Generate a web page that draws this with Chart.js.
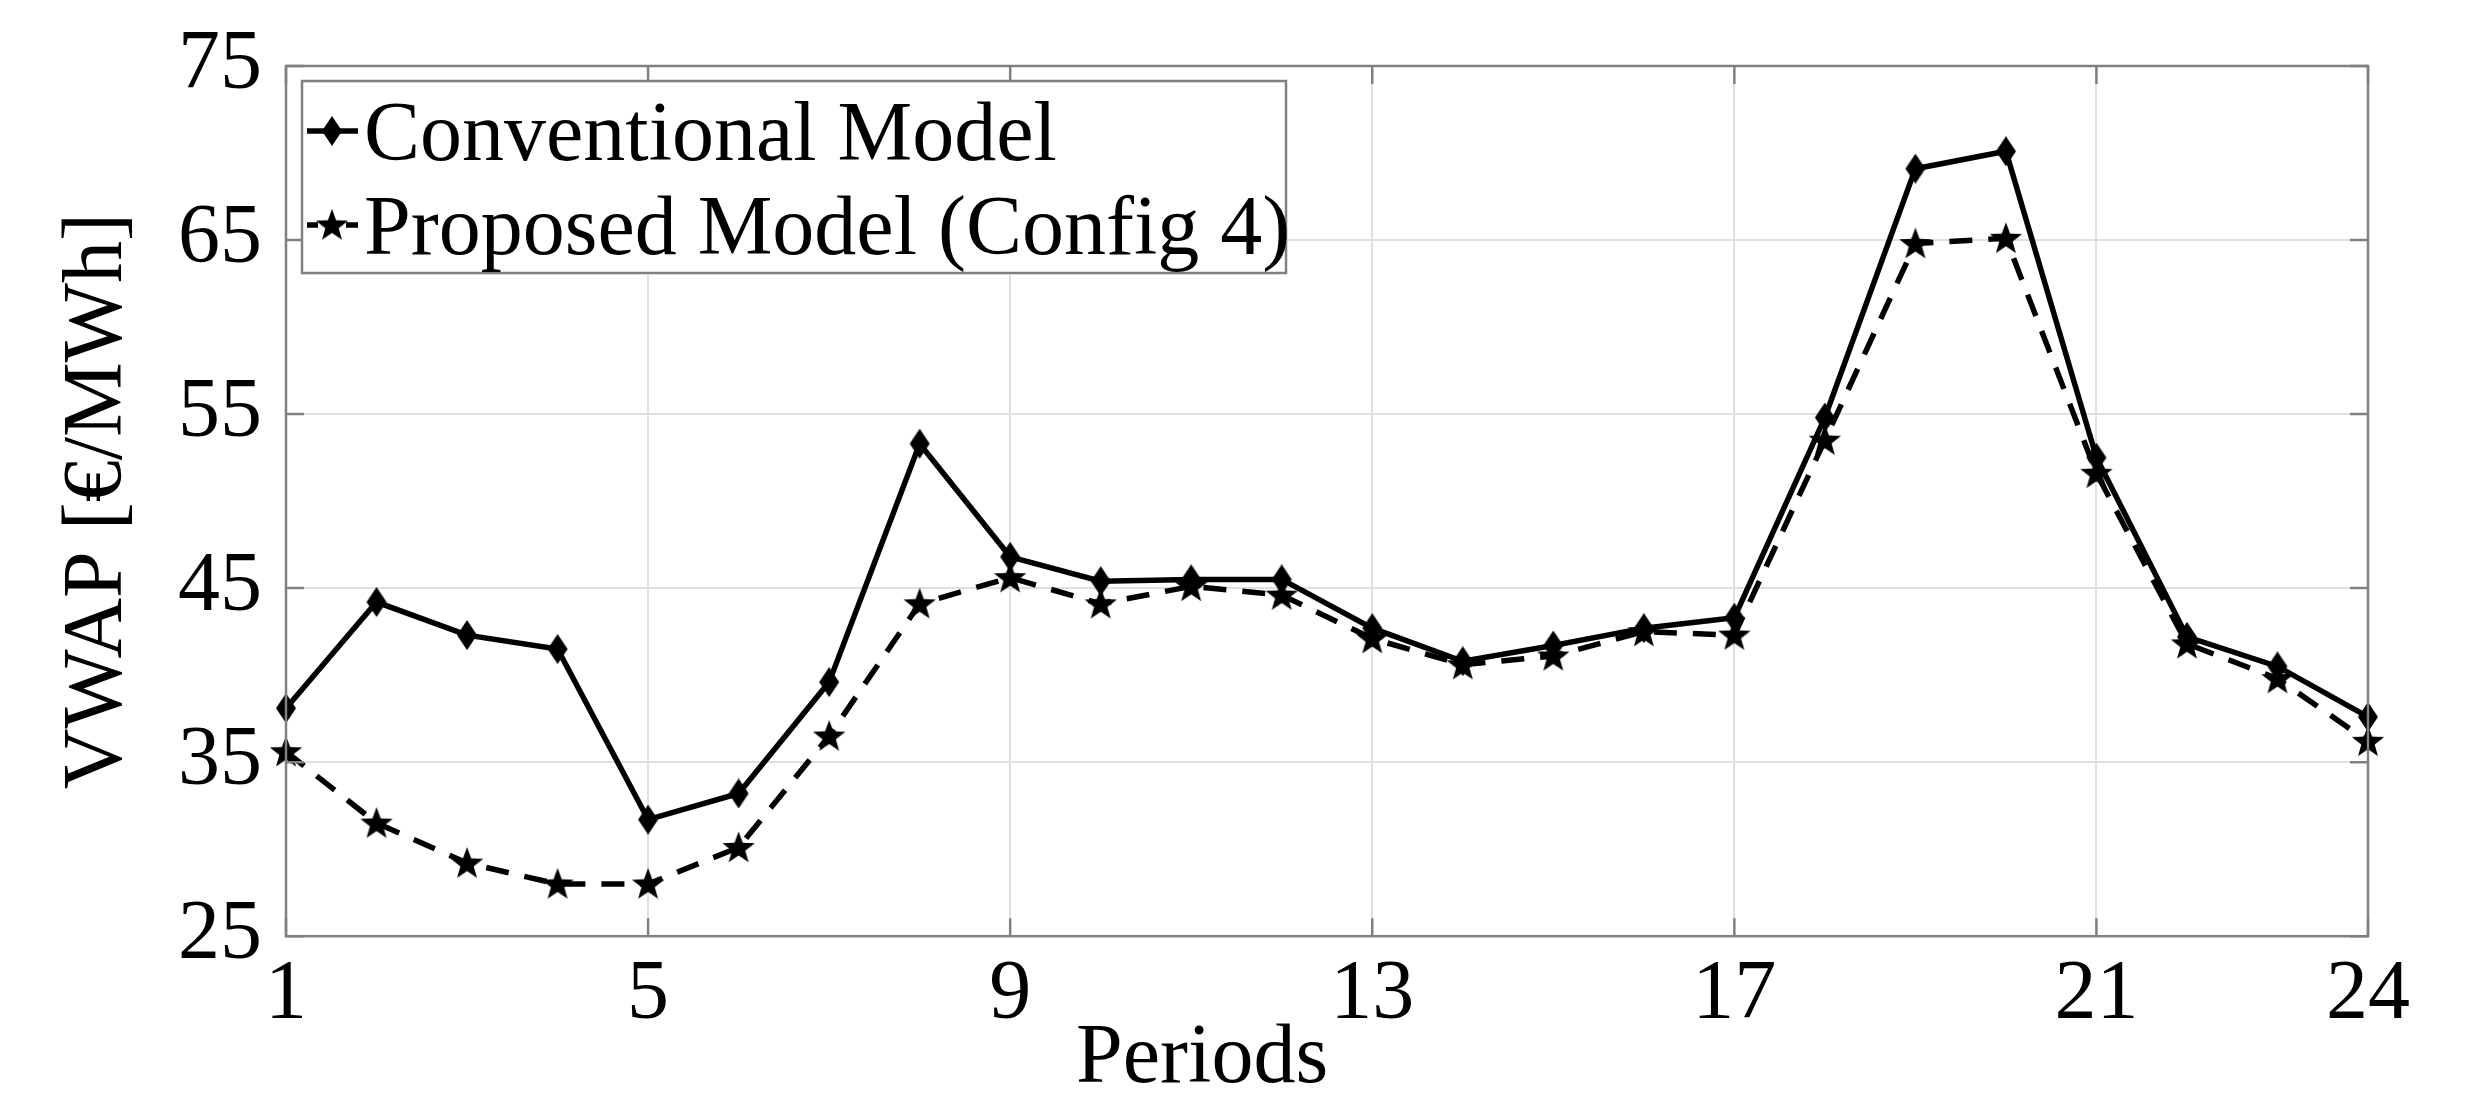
<!DOCTYPE html>
<html><head><meta charset="utf-8">
<script src="https://cdn.jsdelivr.net/npm/chart.js@4.4.1/dist/chart.umd.min.js"></script>
<style>html,body{margin:0;padding:0;background:#fff}#wrap{width:2492px;height:1109px}</style>
</head><body><div id="wrap"><canvas id="c" width="2492" height="1109"></canvas></div>
<script>
const periods = [1,2,3,4,5,6,7,8,9,10,11,12,13,14,15,16,17,18,19,20,21,22,23,24];
const conventional = [38.1,44.2,42.3,41.5,31.7,33.2,39.6,53.3,46.8,45.4,45.5,45.5,42.7,40.8,41.7,42.7,43.3,54.8,69.1,70.1,52.5,42.2,40.5,37.6];
const proposed = [35.6,31.5,29.2,28.0,28.0,30.1,36.5,44.1,45.6,44.1,45.1,44.6,42.1,40.6,41.1,42.5,42.3,53.5,64.8,65.1,51.6,41.8,39.8,36.2];
const xTicks = [1,5,9,13,17,21,24];
const yTicks = [25,35,45,55,65,75];
const seriesLabels = ['Conventional Model','Proposed Model (Config 4)'];
const xTitle = 'Periods';
const yTitle = 'VWAP [€/MWh]';

const FONT = "'Times New Roman','Liberation Serif',serif";
const FS = 84;
const GRID = '#e0e0e0';
const FRAME = '#808080';

function makeDiamond(){
  const c=document.createElement('canvas'); c.width=22; c.height=30;
  const g=c.getContext('2d'); g.fillStyle='#000';
  g.beginPath(); g.moveTo(11,0); g.lineTo(21,15); g.lineTo(11,30); g.lineTo(1,15); g.closePath(); g.fill();
  return c;
}
function makeStar(){
  const c=document.createElement('canvas'); c.width=34; c.height=33;
  const g=c.getContext('2d'); g.fillStyle='#000';
  const cx=17, cy=17.5, R=17, r=7;
  g.beginPath();
  for(let i=0;i<10;i++){
    const a=-Math.PI/2+i*Math.PI/5; const rr=(i%2===0)?R:r;
    const px=cx+rr*Math.cos(a), py=cy+rr*Math.sin(a);
    if(i===0) g.moveTo(px,py); else g.lineTo(px,py);
  }
  g.closePath(); g.fill();
  return c;
}
const diamond = makeDiamond();
const star = makeStar();

const framePlugin = {
  id:'frame',
  afterDatasetsDraw(chart){
    const {ctx, chartArea:ca, scales} = chart;
    ctx.save();
    ctx.strokeStyle=FRAME; ctx.lineWidth=2.5;
    ctx.strokeRect(ca.left, ca.top, ca.right-ca.left, ca.bottom-ca.top);
    const tl=18;
    ctx.beginPath();
    scales.x.ticks.forEach(t=>{
      const px=scales.x.getPixelForValue(t.value);
      ctx.moveTo(px, ca.bottom); ctx.lineTo(px, ca.bottom-tl);
      ctx.moveTo(px, ca.top); ctx.lineTo(px, ca.top+tl);
    });
    scales.y.ticks.forEach(t=>{
      const py=scales.y.getPixelForValue(t.value);
      ctx.moveTo(ca.left, py); ctx.lineTo(ca.left+tl, py);
      ctx.moveTo(ca.right, py); ctx.lineTo(ca.right-tl, py);
    });
    ctx.stroke();

    // legend
    const bx=ca.left+16, by=ca.top+15, bw=984, bh=192;
    ctx.fillStyle='#fff'; ctx.fillRect(bx,by,bw,bh);
    ctx.strokeStyle=FRAME; ctx.lineWidth=2.5; ctx.strokeRect(bx,by,bw,bh);
    chart.data.datasets.forEach((ds,i)=>{
      const cy=by+50+i*94;
      ctx.strokeStyle='#000'; ctx.lineWidth=ds.borderWidth;
      ctx.setLineDash([]);
      ctx.beginPath();
      if(ds.borderDash && ds.borderDash.length){
        ctx.moveTo(bx+5,cy); ctx.lineTo(bx+16,cy);
        ctx.moveTo(bx+44,cy); ctx.lineTo(bx+56,cy);
      } else {
        ctx.moveTo(bx+5,cy); ctx.lineTo(bx+56,cy);
      }
      ctx.stroke();
      const img=ds.pointStyle;
      ctx.drawImage(img, bx+30-img.width/2, cy-img.height/2);
      ctx.fillStyle='#000'; ctx.font=FS+'px '+FONT;
      ctx.textAlign='left'; ctx.textBaseline='alphabetic';
      ctx.fillText(ds.label, bx+62, cy+29);
    });
    // x title
    ctx.fillStyle='#000'; ctx.font=FS+'px '+FONT;
    ctx.textAlign='center'; ctx.textBaseline='alphabetic';
    ctx.fillText(xTitle, ca.left+0.44*(ca.right-ca.left), 1082);
    ctx.restore();
  }
};

new Chart(document.getElementById('c'), {
  type:'line',
  data:{
    datasets:[
      {label:seriesLabels[0], data:periods.map((p,i)=>({x:p,y:conventional[i]})),
       borderColor:'#000', borderWidth:5.5, pointStyle:diamond, pointRadius:12, clip:false, tension:0},
      {label:seriesLabels[1], data:periods.map((p,i)=>({x:p,y:proposed[i]})),
       borderColor:'#000', borderWidth:5.5, borderDash:[23,16], pointStyle:star, pointRadius:14, clip:false, tension:0}
    ]
  },
  options:{
    responsive:false, animation:false, devicePixelRatio:1,
    layout:{padding:{left:0,right:124,top:56,bottom:54}},
    plugins:{legend:{display:false}, tooltip:{enabled:false}},
    scales:{
      x:{type:'linear', min:1, max:24,
        afterBuildTicks:s=>{s.ticks=xTicks.map(v=>({value:v}));},
        ticks:{font:{family:FONT,size:FS,lineHeight:1.2}, color:'#000', padding:9, maxRotation:0, autoSkip:false},
        grid:{color:GRID, lineWidth:2, drawTicks:false},
        border:{display:false}
      },
      y:{type:'linear', min:25, max:75,
        afterBuildTicks:s=>{s.ticks=yTicks.map(v=>({value:v}));},
        ticks:{font:{family:FONT,size:FS,lineHeight:1}, color:'#000', padding:24},
        grid:{color:GRID, lineWidth:2, drawTicks:false},
        border:{display:false},
        title:{display:true, text:yTitle, color:'#000', font:{family:FONT,size:FS,lineHeight:1}, padding:{top:57,bottom:13}}
      }
    }
  },
  plugins:[framePlugin]
});
</script></body></html>
